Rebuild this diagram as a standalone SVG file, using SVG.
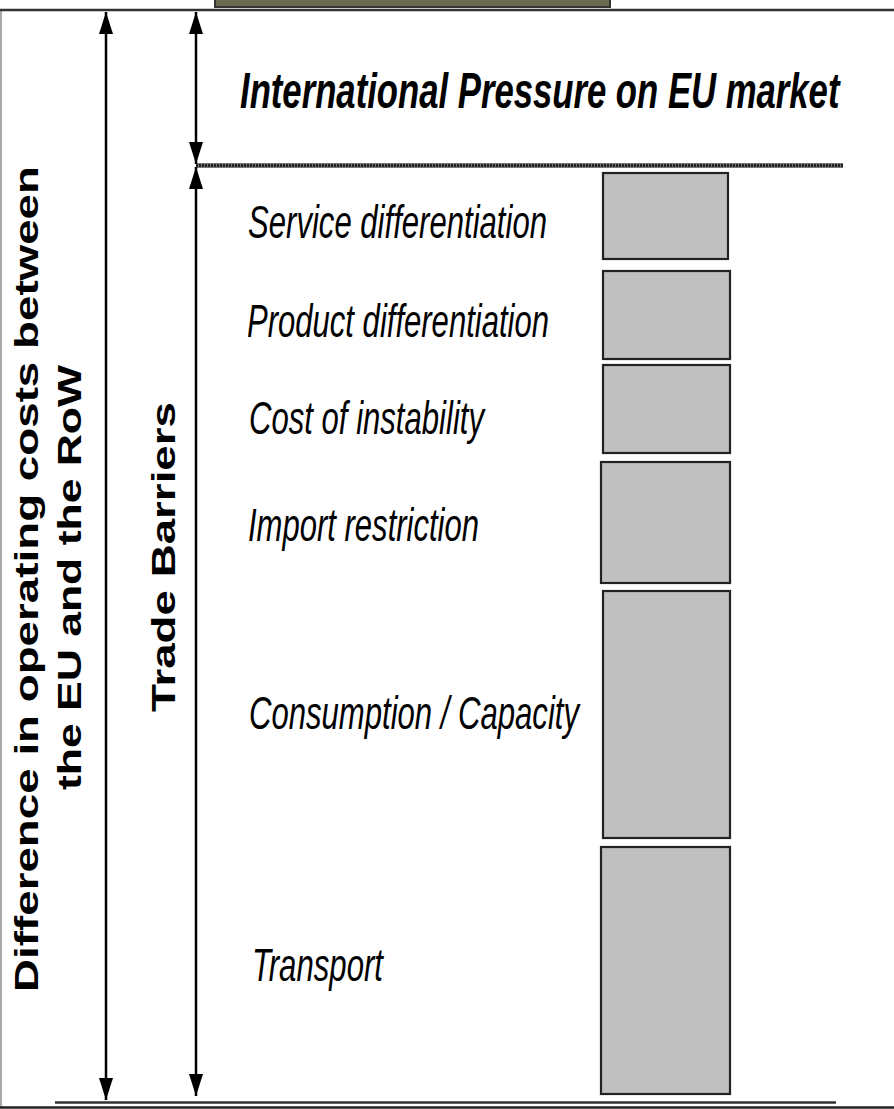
<svg xmlns="http://www.w3.org/2000/svg" width="894" height="1109" viewBox="0 0 894 1109">
<style>
.bar{fill:#c0c0c0;stroke:#222;stroke-width:2.2}
.lbl{font-family:"Liberation Sans",Arial,sans-serif;font-style:italic;font-size:46px;fill:#000}
.title{font-family:"Liberation Sans",Arial,sans-serif;font-style:italic;font-weight:bold;font-size:50px;fill:#000}
.vt{font-family:"Liberation Sans",Arial,sans-serif;font-weight:bold;font-size:33px;fill:#000}
.arr{stroke:#000;stroke-width:2.5;fill:none}
</style>
<defs>
<marker id="ah2" markerUnits="userSpaceOnUse" markerWidth="22" markerHeight="14" viewBox="0 0 22 14" refX="22" refY="7" orient="auto-start-reverse">
<path d="M0,0 L22,7 L0,14 Z" fill="#000"/>
</marker>
</defs>
<rect x="0" y="0" width="894" height="1109" fill="#fff"/>
<g id="frame">
<line x1="1" y1="10" x2="1" y2="1107" stroke="#aaa" stroke-width="2"/>
<rect x="215" y="-3" width="395" height="10" fill="#6b6a50" stroke="#333" stroke-width="2"/>
<line x1="0" y1="10" x2="894" y2="10" stroke="#333" stroke-width="2.5"/>
<line x1="0" y1="1107.5" x2="894" y2="1107.5" stroke="#222" stroke-width="2.5"/>
<line x1="55" y1="1102.5" x2="836" y2="1102.5" stroke="#333" stroke-width="2.5"/>
<line x1="196" y1="165.5" x2="843" y2="165.5" stroke="#777" stroke-width="5"/>
<line x1="196" y1="165.5" x2="843" y2="165.5" stroke="#111" stroke-width="2.5" stroke-dasharray="2 1"/>
</g>
<g id="connectors">
<line class="arr" x1="106" y1="12" x2="106" y2="1100" marker-start="url(#ah2)" marker-end="url(#ah2)"/>
<line class="arr" x1="196" y1="12" x2="196" y2="164" marker-start="url(#ah2)" marker-end="url(#ah2)"/>
<line class="arr" x1="196" y1="167" x2="196" y2="1096" marker-start="url(#ah2)" marker-end="url(#ah2)"/>
</g>
<g id="title"><text class="title" transform="translate(240,108) scale(0.694,1)" x="0" y="0">International Pressure on EU market</text></g>
<g id="axis-diff">
<text class="vt" transform="translate(38,992) rotate(-90)" x="0" y="0" textLength="826" lengthAdjust="spacingAndGlyphs">Difference in operating costs between</text>
<text class="vt" transform="translate(81,790) rotate(-90)" x="0" y="0" textLength="425" lengthAdjust="spacingAndGlyphs">the EU and the RoW</text>
</g>
<g id="axis-trade"><text class="vt" transform="translate(175,712) rotate(-90)" x="0" y="0" textLength="310" lengthAdjust="spacingAndGlyphs">Trade Barriers</text></g>
<g id="n-service"><rect class="bar" x="603" y="173" width="125" height="86"/><text class="lbl" x="248" y="238" textLength="299" lengthAdjust="spacingAndGlyphs">Service differentiation</text></g>
<g id="n-product"><rect class="bar" x="603" y="271" width="127" height="88"/><text class="lbl" x="247" y="337" textLength="302" lengthAdjust="spacingAndGlyphs">Product differentiation</text></g>
<g id="n-instability"><rect class="bar" x="603" y="365" width="127" height="88"/><text class="lbl" x="249" y="434" textLength="235" lengthAdjust="spacingAndGlyphs">Cost of instability</text></g>
<g id="n-import"><rect class="bar" x="601" y="462" width="129" height="121"/><text class="lbl" x="248" y="541" textLength="231" lengthAdjust="spacingAndGlyphs">Import restriction</text></g>
<g id="n-consumption"><rect class="bar" x="603" y="591" width="127" height="247"/><text class="lbl" x="249" y="729" textLength="330" lengthAdjust="spacingAndGlyphs">Consumption / Capacity</text></g>
<g id="n-transport"><rect class="bar" x="601" y="847" width="129" height="247"/><text class="lbl" x="252" y="981" textLength="131" lengthAdjust="spacingAndGlyphs">Transport</text></g>
</svg>
